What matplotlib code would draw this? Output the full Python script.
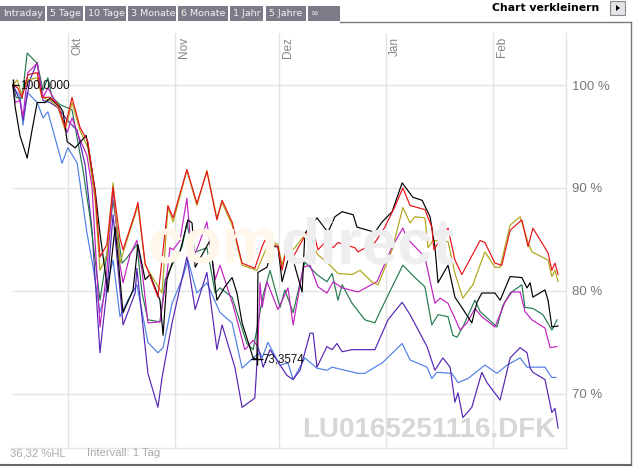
import numpy as np
import matplotlib.pyplot as plt
from matplotlib.patches import Rectangle, Polygon
from matplotlib.lines import Line2D
import matplotlib.transforms as mtransforms

# x = days since 15.09.2008, y = performance in % of start value
red_days = [0, 1.4, 2.6, 4.3, 7.0, 8.4, 10.7, 13.0, 15.1, 17.1, 19.4, 21.7, 23.8, 25.2, 27.2, 29.0,
            31.0, 31.9, 35.4, 36.2, 38.3, 42.0, 44.9, 46.4, 50.4, 53.3, 56.2, 59.1, 60.6, 63.5, 66.4,
            70.1, 72.2, 73.0, 76.8, 78.0, 79.7, 81.2, 85.2, 87.5, 88.4, 91.0, 92.8, 94.2, 99.1, 100.0,
            104.9, 107.8, 110.7, 113.0, 115.1, 119.4, 121.4, 122.0, 126.1, 128.1, 130.1, 135.4, 136.8,
            139.7, 141.7, 144.1, 147.5, 149.3, 150.7, 155.1, 156.2, 157.1, 158.0]
red_vals = [100.0, 99.7, 98.8, 101.0, 101.2, 98.8, 98.8, 98.1, 95.9, 98.8, 95.9, 94.5, 89.6, 83.3, 84.5, 90.1,
            85.1, 84.0, 87.6, 88.6, 82.7, 79.4, 88.3, 87.1, 91.8, 88.5, 91.6, 86.9, 88.8, 86.7, 82.7,
            82.2, 84.3, 84.9, 84.3, 82.0, 84.9, 83.3, 85.7, 85.2, 84.0, 84.9, 84.2, 84.7, 84.2, 83.8,
            84.7, 86.2, 88.2, 90.0, 88.3, 87.9, 86.2, 84.0, 86.1, 83.0, 81.6, 84.9, 84.7,
            82.7, 82.5, 85.9, 86.9, 84.3, 86.1, 83.7, 82.0, 82.7, 81.6]

olive_days = [0, 1.2, 2.6, 4.3, 7.0, 8.4, 10.7, 13.0, 15.1, 17.1, 19.4, 21.7, 23.8, 25.2, 27.2, 29.0,
              31.0, 33.0, 35.4, 36.2, 38.3, 43.2, 44.9, 46.4, 50.4, 53.3, 56.2, 59.1, 60.6, 63.5, 66.4,
              70.7, 73.0, 74.5, 76.8, 78.0, 79.7, 81.2, 85.2, 86.7, 88.4, 91.0, 94.2, 98.3, 100.6,
              104.3, 105.8, 109.9, 113.0, 115.1, 116.5, 119.4, 120.3, 121.7, 126.1, 128.1, 130.4, 133.3,
              136.8, 139.7, 141.2, 144.1, 147.0, 149.3, 150.4, 155.1, 156.2, 157.1, 158.0]
olive_vals = [100.0, 100.5, 99.0, 100.5, 100.7, 98.8, 98.5, 97.9, 95.6, 98.3, 95.6, 93.9, 88.8, 82.0, 83.5, 90.5,
              82.7, 84.9, 87.4, 88.3, 82.5, 79.8, 88.1, 86.7, 91.7, 88.3, 91.7, 87.1, 88.6, 86.4, 82.5,
              82.0, 83.8, 84.9, 84.5, 82.5, 84.7, 84.0, 85.7, 84.5, 83.5, 82.8, 81.7, 81.6, 82.0,
              80.8, 80.6, 84.0, 88.1, 86.6, 87.2, 87.1, 84.2, 84.9, 84.8, 81.7, 79.3, 80.6,
              83.8, 82.3, 82.3, 86.4, 87.2, 84.7, 83.8, 83.0, 81.4, 82.0, 80.9]

black_days = [0, 0.6, 2.0, 4.1, 5.5, 7.0, 9.3, 10.7, 13.6, 14.5, 15.7, 18.0, 21.2, 22.3, 23.8, 25.2,
              27.5, 29.6, 31.9, 34.8, 36.2, 38.3, 39.7, 42.6, 43.5, 44.6, 46.4, 48.4, 50.7, 51.9, 52.8,
              57.1, 59.1, 61.4, 63.5, 64.9, 66.4, 69.6, 70.7, 71.0, 73.6, 75.4, 76.8, 78.0, 79.7, 81.2,
              83.8, 84.6, 88.1, 91.3, 93.3, 95.4, 98.6, 99.7, 104.9, 107.0, 109.9, 112.8, 115.9, 118.6,
              120.9, 122.3, 123.2, 126.1, 128.1, 130.1, 133.0, 134.5, 135.9, 139.7, 141.2, 144.1, 147.5,
              149.0, 149.9, 150.7, 154.2, 155.1, 156.2, 158.0]
black_vals = [100.0, 97.9, 95.1, 92.9, 95.6, 98.3, 98.3, 98.7, 97.9, 97.4, 94.5, 93.9, 95.1, 93.0, 89.8, 85.6,
              79.9, 86.2, 77.9, 80.1, 84.5, 81.1, 81.6, 79.1, 75.7, 81.1, 83.0, 83.8, 86.9, 86.6, 82.3,
              84.9, 79.1, 80.4, 81.3, 79.8, 76.9, 73.5, 73.3574, 81.8, 82.3, 84.3, 84.3, 80.9, 83.0, 83.0,
              79.9, 85.6, 87.1, 85.7, 87.2, 87.7, 87.4, 86.2, 85.7, 86.7, 87.7, 90.5, 89.1, 88.8,
              87.2, 84.3, 80.8, 82.5, 79.4, 78.4, 76.9, 78.9, 79.8, 79.8, 79.1, 81.4, 81.3,
              80.3, 80.8, 79.4, 80.1, 79.1, 76.5, 76.6]

magenta_days = [0, 0.6, 2.0, 2.9, 4.3, 7.0, 8.7, 10.1, 12.2, 15.7, 17.1, 19.4, 21.4, 22.9, 25.2, 27.2,
                29.0, 31.0, 31.9, 33.9, 35.9, 37.4, 39.1, 42.6, 44.6, 45.5, 46.4, 48.4, 50.4, 51.9, 53.6,
                56.2, 58.6, 60.0, 63.8, 67.2, 69.6, 71.0, 71.6, 72.2, 73.6, 76.8, 79.7, 81.2, 84.1, 86.1,
                88.4, 91.0, 92.8, 95.4, 100.0, 105.5, 109.9, 113.0, 114.2, 119.4, 122.3, 123.8, 126.1,
                128.7, 129.6, 131.6, 133.9, 135.9, 139.7, 142.6, 144.6, 147.0, 148.4, 150.4, 154.2, 155.7,
                157.7]
magenta_vals = [100.0, 98.3, 98.5, 96.9, 101.2, 102.1, 98.8, 99.7, 98.5, 95.4, 96.8, 94.7, 93.2, 90.1, 76.5, 82.0,
                89.8, 82.5, 80.8, 83.5, 84.9, 82.0, 76.9, 77.0, 81.6, 84.2, 84.0, 84.9, 89.0, 83.0, 84.3,
                86.7, 81.1, 82.5, 78.6, 74.3, 75.2, 74.6, 80.8, 78.4, 80.9, 78.2, 80.3, 76.7, 82.3, 82.5,
                80.4, 79.8, 80.9, 80.3, 79.9, 80.9, 84.3, 86.1, 85.1, 83.3, 78.8, 79.3, 78.8,
                76.9, 76.2, 76.9, 78.3, 77.5, 76.5, 78.9, 79.9, 79.9, 78.0, 77.2, 76.4, 74.5,
                74.6]

green_days = [0, 0.9, 2.6, 4.1, 7.0, 8.7, 10.1, 11.3, 13.6, 17.1, 20.3, 22.3, 25.2, 27.2, 29.0, 31.6,
              32.5, 35.9, 37.4, 39.1, 42.6, 44.1, 46.4, 49.0, 50.4, 52.2, 56.2, 58.6, 60.0, 63.5, 67.8,
              69.6, 72.5, 74.5, 77.4, 78.8, 81.2, 84.6, 88.1, 91.0, 92.5, 94.2, 95.4, 98.3, 102.0, 104.9,
              106.4, 109.9, 113.0, 116.5, 119.4, 121.4, 123.2, 126.1, 127.5, 128.7, 130.4, 133.9, 135.4,
              140.3, 142.0, 144.1, 147.5, 148.4, 150.7, 153.6, 156.2, 157.7]
green_vals = [100.0, 98.8, 98.7, 103.1, 102.1, 99.5, 100.7, 98.8, 98.1, 97.6, 91.7, 87.2, 79.1, 83.5, 88.8, 82.7,
              83.0, 84.5, 79.8, 77.2, 77.0, 81.1, 82.7, 84.3, 86.6, 83.7, 84.2, 79.8, 80.3, 79.4, 74.9,
              74.3, 79.6, 82.0, 78.4, 80.1, 77.9, 82.8, 81.6, 80.9, 81.7, 79.1, 80.6, 78.8, 77.2, 76.9,
              78.0, 80.4, 82.5, 81.3, 80.4, 76.7, 77.7, 77.5, 75.7, 75.5, 76.5, 79.1, 78.0,
              76.5, 78.6, 79.8, 80.6, 78.4, 78.3, 77.7, 76.2, 77.2]

indigo_days = [0, 2.0, 2.9, 4.9, 7.0, 8.7, 10.7, 13.0, 15.7, 18.6, 20.9, 22.9, 25.2, 27.2, 29.0, 31.0,
               31.9, 35.4, 35.9, 39.1, 42.0, 43.2, 46.1, 50.4, 52.8, 56.2, 59.1, 60.6, 64.3, 66.4, 70.1,
               71.0, 72.5, 74.5, 77.4, 79.4, 81.2, 83.2, 86.1, 87.0, 88.1, 91.0, 92.5, 93.9, 95.4, 98.3,
               104.9, 108.7, 112.8, 115.1, 120.0, 122.3, 124.6, 126.7, 128.1, 129.0, 130.4, 133.0, 135.9,
               137.4, 141.2, 144.1, 147.0, 149.0, 149.9, 150.7, 154.2, 156.2, 157.1, 158.0]
indigo_vals = [100.0, 98.5, 96.6, 100.5, 102.2, 98.5, 98.3, 97.8, 96.6, 95.6, 92.2, 85.9, 74.0, 80.1, 87.4, 80.1,
               76.7, 79.8, 82.2, 72.0, 68.7, 71.6, 76.9, 83.3, 78.2, 81.8, 74.3, 76.7, 72.6, 68.7, 69.6,
               74.6, 72.6, 74.3, 72.8, 71.8, 71.4, 72.3, 75.9, 75.9, 72.6, 74.6, 74.3, 74.9, 74.1, 74.3,
               74.3, 77.2, 78.9, 77.7, 74.6, 72.3, 73.5, 72.6, 69.2, 70.1, 67.7, 68.7, 72.1,
               71.1, 69.4, 73.5, 74.5, 74.0, 72.5, 72.1, 71.4, 68.2, 68.6, 66.7]

blue_days = [0, 0.6, 2.0, 2.9, 4.1, 7.0, 8.7, 10.1, 14.2, 15.9, 18.6, 21.4, 23.2, 25.2, 29.0, 31.0,
             33.3, 35.9, 39.1, 42.0, 43.5, 46.1, 49.3, 50.7, 53.3, 56.2, 60.0, 63.5, 66.4, 69.6, 71.6,
             72.2, 73.9, 77.4, 79.7, 81.2, 84.6, 88.1, 91.0, 92.5, 96.2, 100.0, 102.0, 104.9, 107.0,
             112.8, 115.1, 120.0, 121.4, 122.9, 127.2, 129.0, 131.9, 136.8, 140.3, 143.2, 147.0, 149.0,
             154.2, 156.2, 157.4]
blue_vals = [100.0, 99.5, 99.0, 96.1, 99.3, 98.3, 96.8, 97.4, 92.4, 93.9, 92.4, 85.7, 82.3, 77.9, 83.0, 77.5,
             79.1, 80.6, 75.0, 74.0, 74.5, 78.8, 81.4, 83.0, 79.8, 80.8, 77.9, 76.9, 72.5, 73.5, 74.0,
             73.5, 75.0, 72.8, 73.0, 71.4, 73.5, 72.5, 72.3, 72.6, 72.3, 72.0, 72.0, 72.6, 73.0,
             74.9, 73.3, 72.6, 71.5, 72.1, 72.0, 71.1, 71.5, 72.8, 72.0, 72.8, 73.5, 72.6,
             72.6, 71.6, 71.6]

month_names = ["Okt", "Nov", "Dez", "Jan", "Feb"]
month_days = [16, 47, 77, 108, 139]
pct_ticks = [70, 80, 90, 100]
tab_names = ["Intraday", "5 Tage", "10 Tage", "3 Monate", "6 Monate", "1 Jahr", "5 Jahre", "\u221e"]

W, H = 636, 467
def fx(px):
    return px / W
def fy(py):
    return 1 - py / H

fig = plt.figure(figsize=(W / 100, H / 100), dpi=100)
fig.patch.set_facecolor("white")
ax = fig.add_axes([fx(12), fy(448), (566 - 12) / W, (448 - 33) / H])
ax.set_xlim(-0.3, 160.3)
ax.set_ylim(64.75, 105.05)

grid_col = "#e3e3e3"
for s in ["left", "top"]:
    ax.spines[s].set_visible(False)
for s in ["right", "bottom"]:
    ax.spines[s].set_color(grid_col)
    ax.spines[s].set_linewidth(1.0)
for v in pct_ticks:
    ax.axhline(v, color=grid_col, lw=1.0, zorder=0)
for d in month_days:
    ax.axvline(d, color=grid_col, lw=1.0, zorder=0)

ax.set_xticks([])
ax.yaxis.tick_right()
ax.set_yticks(pct_ticks)
ax.set_yticklabels([f"{v} %" for v in pct_ticks], family="Liberation Sans",
                   fontsize=9.5, color="#777777")
ax.tick_params(axis="y", length=0, pad=4.5)

# month labels at the top
trans = mtransforms.blended_transform_factory(ax.transData, ax.transAxes)
for name, d in zip(month_names, month_days):
    ax.annotate(name, xy=(d, 1.0), xycoords=trans, xytext=(2.2, -3), textcoords="offset points",
                rotation=90, ha="left", va="top", fontsize=8.5, color="#858585",
                family="Liberation Sans")

# watermarks
fig.text(fx(148), fy(263), "com", fontsize=46, fontweight="bold", color="#fff7ea",
         family="Liberation Sans", va="baseline", ha="left", zorder=0)
fig.text(fx(280), fy(263), "direct", fontsize=46, fontweight="bold", color="#eeeeee",
         family="Liberation Sans", va="baseline", ha="left", zorder=0)
ax.patch.set_alpha(0)
fig.text(fx(302), fy(437), "LU0165251116.DFK", fontsize=20, fontweight="bold", color="#d7d7d7",
         family="Liberation Sans", va="baseline", ha="left", zorder=0)

series = [
    (blue_days, blue_vals, "#4d7fe4"),
    (indigo_days, indigo_vals, "#5624b4"),
    (green_days, green_vals, "#237a4c"),
    (magenta_days, magenta_vals, "#c020c0"),
    (olive_days, olive_vals, "#b0a418"),
    (black_days, black_vals, "#000000"),
    (red_days, red_vals, "#e8121a"),
]
for d, v, c in series:
    ax.plot(d, v, color=c, lw=0.85, zorder=3)

# start value and low marker
ax.plot(black_days[0], black_vals[0], marker="+", ms=9, mew=1.0, color="black", zorder=5)
ax.annotate("100,0000", xy=(black_days[0], black_vals[0]), xytext=(5, 0), textcoords="offset points",
            va="center", ha="left", fontsize=8.6, color="#111111", family="Liberation Sans", zorder=6)
i_min = int(np.argmin(black_vals))
ax.plot(black_days[i_min], black_vals[i_min], marker="+", ms=9, mew=1.0, color="black", zorder=5)
ax.annotate(f"{black_vals[i_min]:.4f}".replace(".", ","), xy=(black_days[i_min], black_vals[i_min]),
            xytext=(4.3, 0), textcoords="offset points", va="center", ha="left", fontsize=8.3,
            color="#111111", family="Liberation Sans", zorder=6)

# bottom info texts
fig.text(fx(10), fy(453), "36,32 %HL", fontsize=8.1, color="#aaaaaa", family="Liberation Sans",
         va="center", ha="left")
fig.text(fx(87), fy(453), "Intervall: 1 Tag", fontsize=8.1, color="#aaaaaa", family="Liberation Sans",
         va="center", ha="left")

# tab bar
tab_x = [(0, 45), (47, 83), (85, 126), (128, 176), (178, 228), (230, 263), (266, 306), (308, 340)]
for (x0, x1), name in zip(tab_x, tab_names):
    fig.add_artist(Rectangle((fx(x0), fy(21)), fx(x1 - x0), 15 / H, transform=fig.transFigure,
                             facecolor="#7c7c88", edgecolor="none"))
    fig.text(fx(x0 + 3), fy(13.5), name, fontsize=6.8, color="#f2f2f2", family="DejaVu Sans",
             va="center", ha="left")

fig.text(fx(492), fy(8), "Chart verkleinern", fontsize=7.8, fontweight="bold", color="black",
         family="DejaVu Sans", va="center", ha="left")
fig.add_artist(Rectangle((fx(610), fy(15)), fx(15), 14 / H, transform=fig.transFigure,
                         facecolor="#e4e4e8", edgecolor="#8a8a8a", lw=0.8))
fig.add_artist(Polygon([(fx(616), fy(5)), (fx(616), fy(11)), (fx(620), fy(8))], closed=True,
                       transform=fig.transFigure, facecolor="black", edgecolor="none"))

# frame
fig.add_artist(Line2D([fx(340), fx(631)], [fy(21.5), fy(21.5)], transform=fig.transFigure,
                      color="#7a7a7a", lw=1.0))
fig.add_artist(Line2D([fx(631), fx(631)], [fy(21.5), fy(465)], transform=fig.transFigure,
                      color="#7a7a7a", lw=1.0))
fig.add_artist(Line2D([0, fx(631)], [fy(465), fy(465)], transform=fig.transFigure,
                      color="#666666", lw=1.5))

fig.savefig("out.png", dpi=100, facecolor="white")
